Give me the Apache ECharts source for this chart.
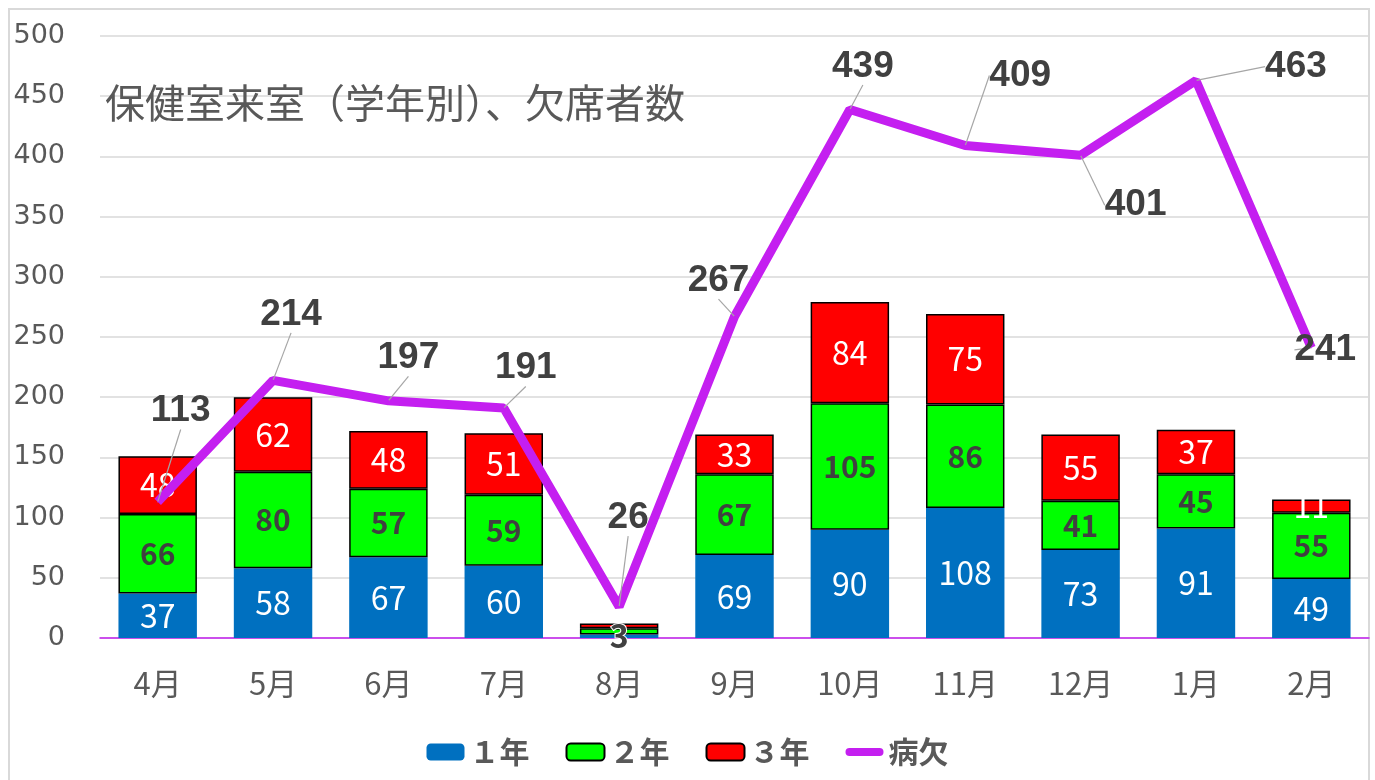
<!DOCTYPE html>
<html lang="ja">
<head>
<meta charset="utf-8" />
<title>保健室来室(学年別)、欠席者数</title>
<script src="https://cdn.jsdelivr.net/npm/echarts@6/dist/echarts.min.js"></script>
<style>
    html, body { margin: 0; padding: 0; background: #fff; }
    #frame { position: absolute; left: 8px; top: 8px; width: 1362px; height: 780px; border: 2px solid #d9d9d9; box-sizing: border-box; }
    #main { width: 1375px; height: 780px; }
</style>
</head>
<body>
<div id="frame"></div>
<div id="main"></div>
<script type="text/javascript">
    // データ
    var months = ['4月', '5月', '6月', '7月', '8月', '9月', '10月', '11月', '12月', '1月', '2月'];
    var grade1 = [37, 58, 67, 60, 3, 69, 90, 108, 73, 91, 49];
    var grade2 = [66, 80, 57, 59, 5, 67, 105, 86, 41, 45, 55];
    var grade3 = [48, 62, 48, 51, 4, 33, 84, 75, 55, 37, 11];
    var absent = [113, 214, 197, 191, 26, 267, 439, 409, 401, 463, 241];
    var yTicks = [0, 500, 50];

    // 病欠ラベルのずらし量（dx, dy）
    var absentLabelShift = [[23, -67], [18, -42], [20, -19], [22, -16], [9, -65], [-16, -12],
        [13, -19], [55, -46], [55, 74], [100, 10], [14, 26]];

    var font = '"Noto Sans CJK JP", sans-serif';

    function barData(values, hideIndex) {
        return values.map(function (v, i) {
            if (hideIndex.indexOf(i) >= 0) {
                return { value: v, label: { show: false } };
            }
            return v;
        });
    }

    // 8月の1年ラベルは小さい棒の上に重ねて表示
    var grade1Data = grade1.map(function (v, i) {
        if (i === 4) {
            return { value: v, label: { color: '#404040', fontWeight: 'bold', textBorderColor: '#fff', textBorderWidth: 2 } };
        }
        return v;
    });

    var chart = echarts.init(document.getElementById('main'));
    var option = {
        animation: false,
        title: {
            text: '保健室来室（学年別）、欠席者数',
            left: 100,
            top: 78,
            textStyle: { fontFamily: font, fontSize: 40, fontWeight: 'normal', color: '#595959' }
        },
        legend: {
            bottom: 8,
            left: 'center',
            itemWidth: 38,
            itemHeight: 17,
            itemGap: 36,
            textStyle: { fontFamily: font, fontSize: 30, fontWeight: 'bold', color: '#595959' },
            data: ['１年', '２年', '３年', {
                name: '病欠',
                icon: 'path://M4,0 L34,0 A4,4 0 0 1 34,8 L4,8 A4,4 0 0 1 4,0 Z'
            }]
        },
        grid: { left: 100, right: 6, top: 36, bottom: 142, containLabel: false },
        xAxis: {
            type: 'category',
            data: months,
            axisLine: { lineStyle: { color: '#c41ff0', width: 1.5 } },
            axisTick: { show: false },
            axisLabel: { fontFamily: font, fontSize: 31, color: '#595959', margin: 30 }
        },
        yAxis: {
            type: 'value',
            min: yTicks[0],
            max: yTicks[1],
            interval: yTicks[2],
            axisLine: { show: false },
            axisTick: { show: false },
            splitLine: { lineStyle: { color: '#d9d9d9', width: 1.5 } },
            axisLabel: { fontFamily: '"DejaVu Sans", sans-serif', fontSize: 27, color: '#595959', margin: 35 }
        },
        series: [
            {
                name: '１年',
                type: 'bar',
                stack: 'total',
                barWidth: '68%',
                itemStyle: { color: '#0070c0' },
                label: { show: true, position: 'inside', fontFamily: font, fontSize: 32, color: '#ffffff' },
                data: grade1Data
            },
            {
                name: '２年',
                type: 'bar',
                stack: 'total',
                itemStyle: { color: '#00ff00', borderColor: '#000', borderWidth: 1.5 },
                label: { show: true, position: 'inside', fontFamily: font, fontSize: 30, fontWeight: 'bold', color: '#404040' },
                data: barData(grade2, [4])
            },
            {
                name: '３年',
                type: 'bar',
                stack: 'total',
                itemStyle: { color: '#ff0000', borderColor: '#000', borderWidth: 1.5 },
                label: { show: true, position: 'inside', fontFamily: font, fontSize: 32, color: '#ffffff' },
                data: barData(grade3, [4])
            },
            {
                name: '病欠',
                type: 'line',
                symbol: 'circle',
                symbolSize: 1,
                showSymbol: true,
                lineStyle: { color: '#c41ff0', width: 9 },
                itemStyle: { color: '#c41ff0' },
                z: 5,
                label: {
                    show: true,
                    position: 'top',
                    fontFamily: '"Liberation Sans", Arial, sans-serif',
                    fontSize: 37,
                    fontWeight: 'bold',
                    color: '#404040'
                },
                labelLine: { show: true, lineStyle: { color: '#a6a6a6', width: 1.2 } },
                labelLayout: function (params) {
                    var s = absentLabelShift[params.dataIndex];
                    return { dx: s[0], dy: s[1] };
                },
                data: absent
            }
        ]
    };
    chart.setOption(option);
</script>
</body>
</html>
